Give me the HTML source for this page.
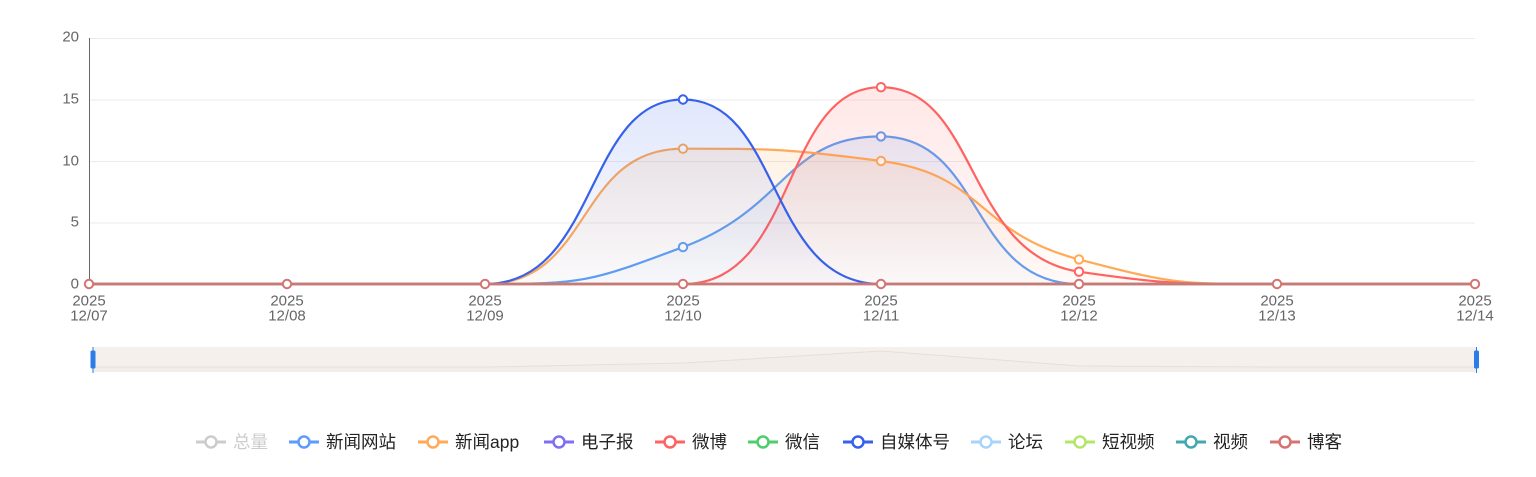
<!DOCTYPE html>
<html>
<head>
<meta charset="utf-8">
<style>
  html,body{margin:0;padding:0;background:#fff;}
  body{width:1536px;height:477px;overflow:hidden;}
  svg{display:block;}
  .ax{font-family:"Liberation Sans","Noto Sans CJK SC",sans-serif;font-size:15px;fill:#666;}
  .lg{font-family:"Liberation Sans","Noto Sans CJK SC",sans-serif;font-size:17.5px;fill:#222;}
</style>
</head>
<body>
<svg width="1536" height="477" viewBox="0 0 1536 477" xmlns="http://www.w3.org/2000/svg">
  <defs>
    <linearGradient id="gWeb" x1="0" y1="0" x2="0" y2="1">
      <stop offset="0" stop-color="#5a9ef7" stop-opacity="0.15"/>
      <stop offset="1" stop-color="#5a9ef7" stop-opacity="0.02"/>
    </linearGradient>
    <linearGradient id="gApp" x1="0" y1="0" x2="0" y2="1">
      <stop offset="0" stop-color="#ffaa58" stop-opacity="0.15"/>
      <stop offset="1" stop-color="#ffaa58" stop-opacity="0.02"/>
    </linearGradient>
    <linearGradient id="gWb" x1="0" y1="0" x2="0" y2="1">
      <stop offset="0" stop-color="#ff6361" stop-opacity="0.15"/>
      <stop offset="1" stop-color="#ff6361" stop-opacity="0.02"/>
    </linearGradient>
    <linearGradient id="gZm" x1="0" y1="0" x2="0" y2="1">
      <stop offset="0" stop-color="#3761ea" stop-opacity="0.15"/>
      <stop offset="1" stop-color="#3761ea" stop-opacity="0.02"/>
    </linearGradient>
  </defs>

  <!-- grid -->
  <g stroke="#ebebeb" stroke-width="1">
    <line x1="89" y1="38.5" x2="1475" y2="38.5"/>
    <line x1="89" y1="100" x2="1475" y2="100"/>
    <line x1="89" y1="161.5" x2="1475" y2="161.5"/>
    <line x1="89" y1="223" x2="1475" y2="223"/>
  </g>
  <line x1="89.5" y1="38" x2="89.5" y2="285" stroke="#666" stroke-width="1"/>

  <!-- y labels -->
  <g class="ax" text-anchor="end" dominant-baseline="central">
    <text x="79" y="37">20</text>
    <text x="79" y="99">15</text>
    <text x="79" y="161">10</text>
    <text x="79" y="222">5</text>
    <text x="79" y="284">0</text>
  </g>

  <!-- x labels -->
  <g class="ax" text-anchor="middle" dominant-baseline="central">
    <text x="89" y="301">2025</text><text x="89" y="316">12/07</text>
    <text x="287" y="301">2025</text><text x="287" y="316">12/08</text>
    <text x="485" y="301">2025</text><text x="485" y="316">12/09</text>
    <text x="683" y="301">2025</text><text x="683" y="316">12/10</text>
    <text x="881" y="301">2025</text><text x="881" y="316">12/11</text>
    <text x="1079" y="301">2025</text><text x="1079" y="316">12/12</text>
    <text x="1277" y="301">2025</text><text x="1277" y="316">12/13</text>
    <text x="1475" y="301">2025</text><text x="1475" y="316">12/14</text>
  </g>

  <!-- 新闻网站 -->
  <path d="M89,284 L485,284 C584.9,284 589.85,281.8 683,247.1 C787.9,208 786.2,136.4 881,136.4 C984.2,136.4 969.1,284 1079,284 L1475,284 Z" fill="url(#gWeb)" stroke="none"/>
  <path d="M89,284 L485,284 C584.9,284 589.85,281.8 683,247.1 C787.9,208 786.2,136.4 881,136.4 C984.2,136.4 969.1,284 1079,284 L1475,284" fill="none" stroke="#5a9ef7" stroke-width="2.2"/>
  <g fill="#fff" stroke="#5a9ef7" stroke-width="2">
    <circle cx="683" cy="247.1" r="4.2"/>
    <circle cx="881" cy="136.4" r="4.2"/>
  </g>

  <!-- 新闻app -->
  <path d="M89,284 L485,284 C593.4,284 574.7,148.7 683,148.7 C772.6,148.7 787.3,148.7 881,161 C985.4,174.7 974.9,232.1 1079,259.4 C1172.9,284 1177.65,284 1277,284 L1475,284 Z" fill="url(#gApp)" stroke="none"/>
  <path d="M89,284 L485,284 C593.4,284 574.7,148.7 683,148.7 C772.6,148.7 787.3,148.7 881,161 C985.4,174.7 974.9,232.1 1079,259.4 C1172.9,284 1177.65,284 1277,284 L1475,284" fill="none" stroke="#ffaa58" stroke-width="2.2"/>
  <g fill="#fff" stroke="#ffaa58" stroke-width="2">
    <circle cx="683" cy="148.7" r="4.2"/>
    <circle cx="881" cy="161" r="4.2"/>
    <circle cx="1079" cy="259.4" r="4.2"/>
  </g>

  <!-- 电子报 -->
  <line x1="89" y1="284" x2="1475" y2="284" stroke="#7e6ff5" stroke-width="2.2"/>

  <!-- 微博 -->
  <path d="M89,284 L683,284 C798.8,284 780.4,87.2 881,87.2 C978.5,87.2 964.8,254.9 1079,271.7 C1162.7,284 1177.9,284 1277,284 L1475,284 Z" fill="url(#gWb)" stroke="none"/>
  <path d="M89,284 L683,284 C798.8,284 780.4,87.2 881,87.2 C978.5,87.2 964.8,254.9 1079,271.7 C1162.7,284 1177.9,284 1277,284 L1475,284" fill="none" stroke="#ff6361" stroke-width="2.2"/>
  <g fill="#fff" stroke="#ff6361" stroke-width="2">
    <circle cx="881" cy="87.2" r="4.2"/>
    <circle cx="1079" cy="271.7" r="4.2"/>
  </g>

  <!-- 微信 -->
  <line x1="89" y1="284" x2="1475" y2="284" stroke="#4ccd6e" stroke-width="2.2"/>

  <!-- 自媒体号 -->
  <path d="M89,284 L485,284 C599.3,284 584,99.5 683,99.5 C782,99.5 766.7,284 881,284 L1475,284 Z" fill="url(#gZm)" stroke="none"/>
  <path d="M89,284 L485,284 C599.3,284 584,99.5 683,99.5 C782,99.5 766.7,284 881,284 L1475,284" fill="none" stroke="#3761ea" stroke-width="2.2"/>
  <g fill="#fff" stroke="#3761ea" stroke-width="2">
    <circle cx="683" cy="99.5" r="4.2"/>
  </g>

  <!-- 论坛 / 短视频 / 视频 -->
  <line x1="89" y1="284" x2="1475" y2="284" stroke="#a7d4fc" stroke-width="2.2"/>
  <line x1="89" y1="284" x2="1475" y2="284" stroke="#b5e56a" stroke-width="2.2"/>
  <line x1="89" y1="284" x2="1475" y2="284" stroke="#41a9ae" stroke-width="2.2"/>

  <!-- 博客 -->
  <line x1="89" y1="284" x2="1475" y2="284" stroke="#d47471" stroke-width="2.4"/>
  <g fill="#fff" stroke="#d47471" stroke-width="2">
    <circle cx="89" cy="284" r="4.2"/>
    <circle cx="287" cy="284" r="4.2"/>
    <circle cx="485" cy="284" r="4.2"/>
    <circle cx="683" cy="284" r="4.2"/>
    <circle cx="881" cy="284" r="4.2"/>
    <circle cx="1079" cy="284" r="4.2"/>
    <circle cx="1277" cy="284" r="4.2"/>
    <circle cx="1475" cy="284" r="4.2"/>
  </g>

  <!-- data zoom slider -->
  <rect x="93" y="347" width="1383" height="25" fill="#f5f0eb"/>
  <polygon points="93,367 290,367 488,367 685,363 881,351 1079,366 1277,367 1476,367 1476,372 93,372" fill="#f2ede8"/>
  <polyline points="93,367 290,367 488,367 685,363 881,351 1079,366 1277,367 1476,367" fill="none" stroke="#e6dfd8" stroke-width="1"/>
  <g>
    <line x1="93" y1="347" x2="93" y2="373" stroke="#2b7de9" stroke-width="1"/>
    <rect x="90.5" y="350.5" width="5" height="18" rx="1.5" fill="#2b7de9"/>
    <line x1="1476.5" y1="347" x2="1476.5" y2="373" stroke="#2b7de9" stroke-width="1"/>
    <rect x="1474" y="350.5" width="5" height="18" rx="1.5" fill="#2b7de9"/>
  </g>

  <!-- legend -->
  <g stroke-width="2.5">
    <line x1="196" y1="442" x2="226" y2="442" stroke="#ccc" stroke-width="3"/><circle cx="211" cy="442" r="5.5" fill="#fff" stroke="#ccc"/>
    <line x1="289" y1="442" x2="319" y2="442" stroke="#5a9ef7" stroke-width="3"/><circle cx="304" cy="442" r="5.5" fill="#fff" stroke="#5a9ef7"/>
    <line x1="418" y1="442" x2="448" y2="442" stroke="#ffaa58" stroke-width="3"/><circle cx="433" cy="442" r="5.5" fill="#fff" stroke="#ffaa58"/>
    <line x1="544" y1="442" x2="574" y2="442" stroke="#7e6ff5" stroke-width="3"/><circle cx="559" cy="442" r="5.5" fill="#fff" stroke="#7e6ff5"/>
    <line x1="655" y1="442" x2="685" y2="442" stroke="#ff6361" stroke-width="3"/><circle cx="670" cy="442" r="5.5" fill="#fff" stroke="#ff6361"/>
    <line x1="748" y1="442" x2="778" y2="442" stroke="#4ccd6e" stroke-width="3"/><circle cx="763" cy="442" r="5.5" fill="#fff" stroke="#4ccd6e"/>
    <line x1="843" y1="442" x2="873" y2="442" stroke="#3761ea" stroke-width="3"/><circle cx="858" cy="442" r="5.5" fill="#fff" stroke="#3761ea"/>
    <line x1="971" y1="442" x2="1001" y2="442" stroke="#a7d4fc" stroke-width="3"/><circle cx="986" cy="442" r="5.5" fill="#fff" stroke="#a7d4fc"/>
    <line x1="1065" y1="442" x2="1095" y2="442" stroke="#b5e56a" stroke-width="3"/><circle cx="1080" cy="442" r="5.5" fill="#fff" stroke="#b5e56a"/>
    <line x1="1176" y1="442" x2="1206" y2="442" stroke="#41a9ae" stroke-width="3"/><circle cx="1191" cy="442" r="5.5" fill="#fff" stroke="#41a9ae"/>
    <line x1="1270" y1="442" x2="1300" y2="442" stroke="#d47471" stroke-width="3"/><circle cx="1285" cy="442" r="5.5" fill="#fff" stroke="#d47471"/>
  </g>
  <g class="lg" dominant-baseline="central">
    <text x="233" y="442" style="fill:#ccc">总量</text>
    <text x="326" y="442">新闻网站</text>
    <text x="455" y="442">新闻app</text>
    <text x="581" y="442">电子报</text>
    <text x="692" y="442">微博</text>
    <text x="785" y="442">微信</text>
    <text x="880" y="442">自媒体号</text>
    <text x="1008" y="442">论坛</text>
    <text x="1102" y="442">短视频</text>
    <text x="1213" y="442">视频</text>
    <text x="1307" y="442">博客</text>
  </g>
</svg>
</body>
</html>
